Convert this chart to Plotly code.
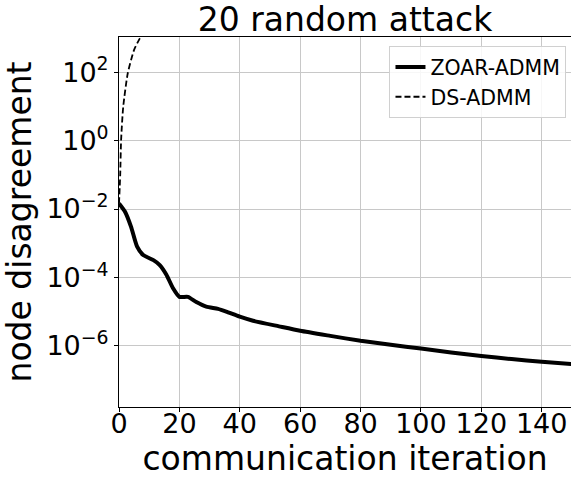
import plotly.graph_objects as go

# ZOAR-ADMM (solid)
zoar_x = [0, 2, 4, 6, 8, 11.4, 13.5, 15.7, 17.9, 20, 22.8, 25.6, 28.9, 32.8, 35.5, 40, 44.4,
          53, 60, 70, 80, 90, 100, 110, 120, 130, 140, 150]
zoar_y = [1.45e-2, 8.3e-3, 3.0e-3, 7.9e-4, 4.5e-4, 3.2e-4, 2.3e-4, 1.2e-4, 4.8e-5, 2.7e-5, 2.7e-5,
          1.9e-5, 1.4e-5, 1.2e-5, 1.0e-5, 7.1e-6, 5.4e-6,
          3.7e-6, 2.75e-6, 1.95e-6, 1.4e-6, 1.07e-6, 8.3e-7, 6.4e-7, 5.0e-7, 4.1e-7, 3.4e-7, 2.9e-7]

# DS-ADMM (dashed)
ds_x = [0, 0.4, 0.7, 1.4, 2.9, 5.0, 6.9, 8, 10]
ds_y = [1.45e-2, 0.1, 1.05, 9.8, 93, 450, 980, 1400, 2500]

ytick_vals = [1e2, 1e0, 1e-2, 1e-4, 1e-6]
ytick_text = ["10<sup>2</sup>", "10<sup>0</sup>", "10<sup>−2</sup>", "10<sup>−4</sup>", "10<sup>−6</sup>"]
xtick_vals = [0, 20, 40, 60, 80, 100, 120, 140]

FONT = "DejaVu Sans"

fig = go.Figure()
fig.add_trace(go.Scatter(x=zoar_x, y=zoar_y, mode="lines", name="ZOAR-ADMM",
                         line=dict(color="black", width=4, shape="spline", smoothing=0.6)))
fig.add_trace(go.Scatter(x=ds_x, y=ds_y, mode="lines", name="DS-ADMM",
                         line=dict(color="black", width=1.8, dash="6px,3px", shape="spline", smoothing=0.6)))

fig.update_layout(
    width=571, height=478,
    margin=dict(l=119, r=0, t=37, b=71),
    paper_bgcolor="white", plot_bgcolor="white",
    font=dict(family=FONT, color="black"),
    title=dict(text="20 random attack", font=dict(size=33, family=FONT, color="black"),
               x=345/571, xanchor="center", xref="container",
               y=1 - 19/478, yanchor="middle", yref="container"),
    legend=dict(x=0.99, y=0.975, xanchor="right", yanchor="top",
                bgcolor="rgba(255,255,255,0.85)", bordercolor="#d0d0d0", borderwidth=1,
                font=dict(size=20.5, family=FONT, color="black")),
    showlegend=True,
)
fig.update_xaxes(
    range=[0, 149.7], tickvals=xtick_vals,
    showgrid=True, gridcolor="#c8c8c8", gridwidth=1,
    showline=True, linecolor="black", linewidth=1, mirror=True,
    ticks="outside", ticklen=4, tickcolor="black",
    tickfont=dict(size=27, family=FONT, color="black"),
    ticklabelstandoff=-11,
    title=dict(text="communication iteration", font=dict(size=33, family=FONT, color="black"), standoff=7),
    zeroline=False,
)
fig.update_yaxes(
    type="log", range=[-7.79, 3.03], tickvals=ytick_vals, ticktext=ytick_text,
    showgrid=True, gridcolor="#c8c8c8", gridwidth=1,
    showline=True, linecolor="black", linewidth=1, mirror=False,
    ticks="outside", ticklen=4, tickcolor="black",
    tickfont=dict(size=27, family=FONT, color="black"),
    title=dict(text="node disagreement", font=dict(size=33, family=FONT, color="black"), standoff=4),
    zeroline=False,
)

fig.write_html("out.html")
